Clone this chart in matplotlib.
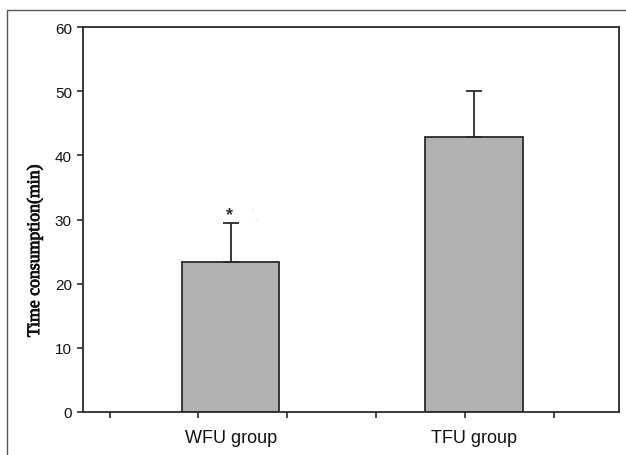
import matplotlib
matplotlib.use("Agg")
import matplotlib.pyplot as plt
from matplotlib.patches import Rectangle
import matplotlib.patheffects as pe

categories = ["WFU group", "TFU group"]
means = [23.4, 42.9]
errors = [6.1, 7.2]
y_ticks = [0, 10, 20, 30, 40, 50, 60]
significance = ["*", ""]

W, H = 626, 456
fig = plt.figure(figsize=(W / 100, H / 100), dpi=100)
fig.patch.set_facecolor("white")

# outer frame
fig.patches.append(Rectangle((7 / W, -0.1), 1.2, 1 - 11 / H + 0.1,
                             transform=fig.transFigure, fill=False,
                             edgecolor="#555555", linewidth=1.0))

ax = fig.add_axes([83 / W, 1 - 413 / H, (619 - 83) / W, (413 - 28) / H])
x = [0, 1]
ax.bar(x, means, width=0.40, color="#b2b2b2", edgecolor="#2b2b2b",
       linewidth=1.3, zorder=2)
ax.errorbar(x, means, yerr=[[0, 0], errors], fmt="none", ecolor="#2b2b2b",
            elinewidth=1.3, capsize=6, capthick=1.3, zorder=3)

for xi, m, e, s in zip(x, means, errors, significance):
    if s:
        ax.text(xi - 0.006, m + e - 0.1, s, ha="center", va="bottom",
                fontsize=13, fontweight="bold", color="#333333",
                family="Liberation Sans")
        # faint scan artefacts next to the asterisk
        ax.text(xi + 0.09, m + e + 0.9, "'", ha="center", va="bottom",
                fontsize=7, color="#d8d8d8", family="Liberation Sans")
        ax.text(xi + 0.105, m + e - 0.2, "-", ha="center", va="bottom",
                fontsize=7, color="#dddddd", family="Liberation Sans")

ax.set_xlim(-0.606, 1.595)
ax.set_ylim(0, 60)
ax.set_yticks(y_ticks)
ax.set_yticklabels([str(v) for v in y_ticks], fontsize=11,
                   family="Liberation Sans", color="#111111")
ax.set_xticks(x)
ax.set_xticklabels(categories, fontsize=13, family="Liberation Sans",
                   color="#111111")
ax.set_xticks([-0.495, -0.133, 0.232, 0.597, 0.963, 1.328], minor=True)
ax.tick_params(axis="x", which="major", length=0, pad=12)
ax.tick_params(axis="x", which="minor", length=4, width=1.2, color="#2b2b2b",
               direction="out")
ax.tick_params(axis="y", length=4, width=1.2, color="#2b2b2b", pad=4,
               direction="out")
for sp in ax.spines.values():
    sp.set_color("#2b2b2b")
    sp.set_linewidth(1.3)

fig.text(34.5 / W, 1 - 252 / H, "Time consumption(min)", rotation=90,
         ha="center", va="center", fontsize=12.8, family="Liberation Serif",
         color="#111111",
         path_effects=[pe.withStroke(linewidth=0.6, foreground="#111111")])

fig.savefig("out.png", dpi=100, facecolor="white")
